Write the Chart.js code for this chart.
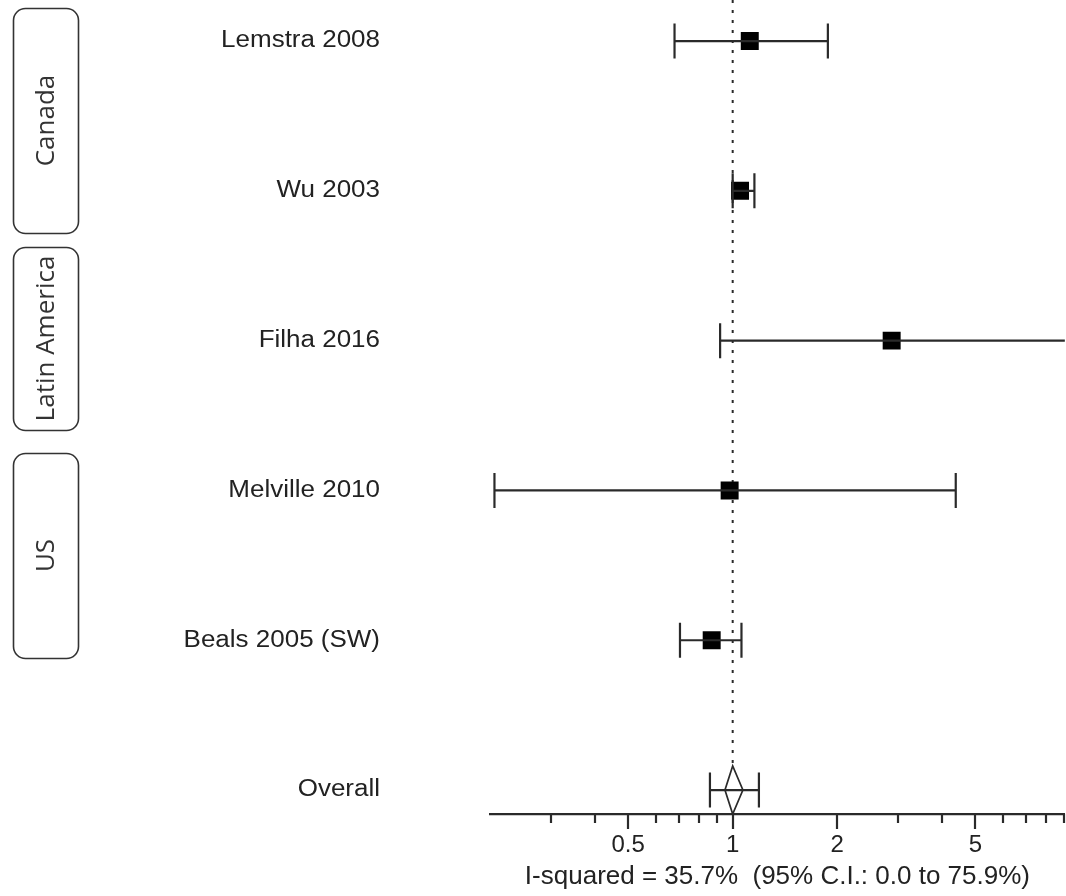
<!DOCTYPE html>
<html>
<head>
<meta charset="utf-8">
<script src="https://cdn.jsdelivr.net/npm/chart.js@4.4.1/dist/chart.umd.min.js"></script>
<style>
  html, body { margin: 0; padding: 0; background: #fff; }
</style>
</head>
<body>
<canvas id="forest" width="1066" height="896"></canvas>
<script>
// rows, top to bottom
const studies = ['Lemstra 2008', 'Wu 2003', 'Filha 2016', 'Melville 2010', 'Beals 2005 (SW)', 'Overall'];
const estimate = [1.12, 1.05, 2.87, 0.98, 0.87, 1.0];
const lower = [0.68, 1.0, 0.92, 0.206, 0.705, 0.86];
const upper = [1.88, 1.155, 12, 4.39, 1.06, 1.19];
// pooled diamond (overall row)
const diamondLow = 0.95;
const diamondHigh = 1.07;

const groups = ['Canada', 'Latin America', 'US'];

const majorTicks = [0.5, 1, 2, 5];
const tickLabels = ['0.5', '1', '2', '5'];
const minorTicks = [0.3, 0.4, 0.6, 0.7, 0.8, 0.9, 3, 4, 6, 7, 8, 9];
const axisTitle = 'I-squared = 35.7%  (95% C.I.: 0.0 to 75.9%)';

const INK = '#2a2a2a';
const overallRow = studies.length - 1;

// whiskers: one little line dataset per row, caps are rotated 'line' points
const whiskers = studies.map((s, i) => ({
  label: s + ' CI',
  data: [{x: lower[i], y: i}, {x: upper[i], y: i}],
  showLine: true,
  borderColor: INK,
  borderWidth: 2.2,
  pointStyle: 'line',
  pointRotation: 90,
  pointRadius: 17.5,
  pointBorderWidth: 2.2,
  pointBorderColor: INK
}));

const squares = {
  label: 'estimate',
  data: studies.slice(0, overallRow).map((s, i) => ({x: estimate[i], y: i})),
  pointStyle: 'rect',
  pointRadius: 12.7,
  pointBorderWidth: 0,
  backgroundColor: '#000'
};

function stretchedText(ctx, txt, x, y, sx) {
  ctx.save();
  ctx.translate(x, y);
  ctx.scale(sx, 1);
  ctx.fillText(txt, 0, 0);
  ctx.restore();
}

const forestExtras = {
  id: 'forestExtras',
  beforeDatasetsDraw(chart) {
    const {ctx, scales: {x, y}} = chart;
    const px = x.getPixelForValue(1);
    ctx.save();
    ctx.strokeStyle = INK;
    ctx.lineWidth = 2;
    ctx.setLineDash([3, 7]);
    ctx.beginPath();
    ctx.moveTo(px, 0);
    ctx.lineTo(px, y.getPixelForValue(overallRow) - 26);
    ctx.stroke();
    ctx.restore();
  },
  afterDatasetsDraw(chart) {
    const {ctx, scales: {x, y}} = chart;
    const yc = y.getPixelForValue(overallRow);
    const xc = x.getPixelForValue(estimate[overallRow]);
    ctx.save();
    ctx.strokeStyle = INK;
    ctx.lineWidth = 1.7;
    ctx.beginPath();
    ctx.moveTo(x.getPixelForValue(diamondLow), yc);
    ctx.lineTo(xc, yc - 24);
    ctx.lineTo(x.getPixelForValue(diamondHigh), yc);
    ctx.lineTo(xc, yc + 24);
    ctx.closePath();
    ctx.stroke();
    ctx.restore();
  },
  afterDraw(chart) {
    const {ctx, scales: {x, y}} = chart;
    ctx.save();
    // tick marks under the axis line
    ctx.strokeStyle = INK;
    ctx.lineWidth = 2.2;
    const top = x.top;
    minorTicks.concat(majorTicks).forEach(v => {
      const px = Math.round(x.getPixelForValue(v));
      const len = majorTicks.includes(v) ? 15 : 9;
      ctx.beginPath();
      ctx.moveTo(px, top);
      ctx.lineTo(px, top + len);
      ctx.stroke();
    });

    // study labels
    ctx.fillStyle = '#222';
    ctx.font = '23px "Liberation Sans", Arial, sans-serif';
    ctx.textAlign = 'right';
    ctx.textBaseline = 'middle';
    studies.forEach((s, i) => {
      stretchedText(ctx, s, 380, y.getPixelForValue(i), 1.13);
    });

    // region boxes (layout)
    const boxes = [[13, 8, 65, 225], [13, 247, 65, 183], [13, 453, 65, 205]];
    ctx.strokeStyle = '#333';
    ctx.lineWidth = 1.6;
    ctx.font = '26px "Open Sans", sans-serif';
    ctx.fillStyle = '#333';
    ctx.textAlign = 'center';
    boxes.forEach((b, i) => {
      ctx.beginPath();
      ctx.roundRect(b[0] + 0.5, b[1] + 0.5, b[2], b[3], 12);
      ctx.stroke();
      ctx.save();
      ctx.translate(b[0] + b[2] / 2 + 1, b[1] + b[3] / 2);
      ctx.rotate(-Math.PI / 2);
      ctx.fillText(groups[i], 0, 0);
      ctx.restore();
    });
    ctx.restore();
  }
};

new Chart(document.getElementById('forest'), {
  type: 'scatter',
  data: {datasets: [...whiskers, squares]},
  options: {
    responsive: false,
    animation: false,
    events: [],
    layout: {autoPadding: false, padding: {left: 490, right: 0, top: 0, bottom: 0}},
    plugins: {legend: {display: false}, tooltip: {enabled: false}},
    scales: {
      x: {
        type: 'logarithmic',
        min: 0.2,
        max: 9.05,
        afterBuildTicks: s => {
          s.ticks = minorTicks.concat(majorTicks).sort((a, b) => a - b).map(v => ({value: v}));
        },
        afterFit: s => { s.height = 82; },
        grid: {
          display: true,
          drawOnChartArea: false,
          drawTicks: true,
          tickLength: 15,
          tickColor: 'rgba(0,0,0,0)'
        },
        border: {display: true, color: INK, width: 2.2},
        ticks: {
          autoSkip: false,
          maxRotation: 0,
          padding: 2,
          color: '#222',
          font: {family: '"Liberation Sans", Arial, sans-serif', size: 24},
          callback: v => {
            const k = majorTicks.indexOf(v);
            return k >= 0 ? tickLabels[k] : '';
          }
        },
        title: {
          display: true,
          text: axisTitle,
          color: '#222',
          font: {family: '"Liberation Sans", Arial, sans-serif', size: 26},
          padding: {top: 0, bottom: 4}
        }
      },
      y: {
        type: 'linear',
        display: false,
        reverse: true,
        min: -0.274,
        max: 5.16
      }
    }
  },
  plugins: [forestExtras]
});
</script>
</body>
</html>
